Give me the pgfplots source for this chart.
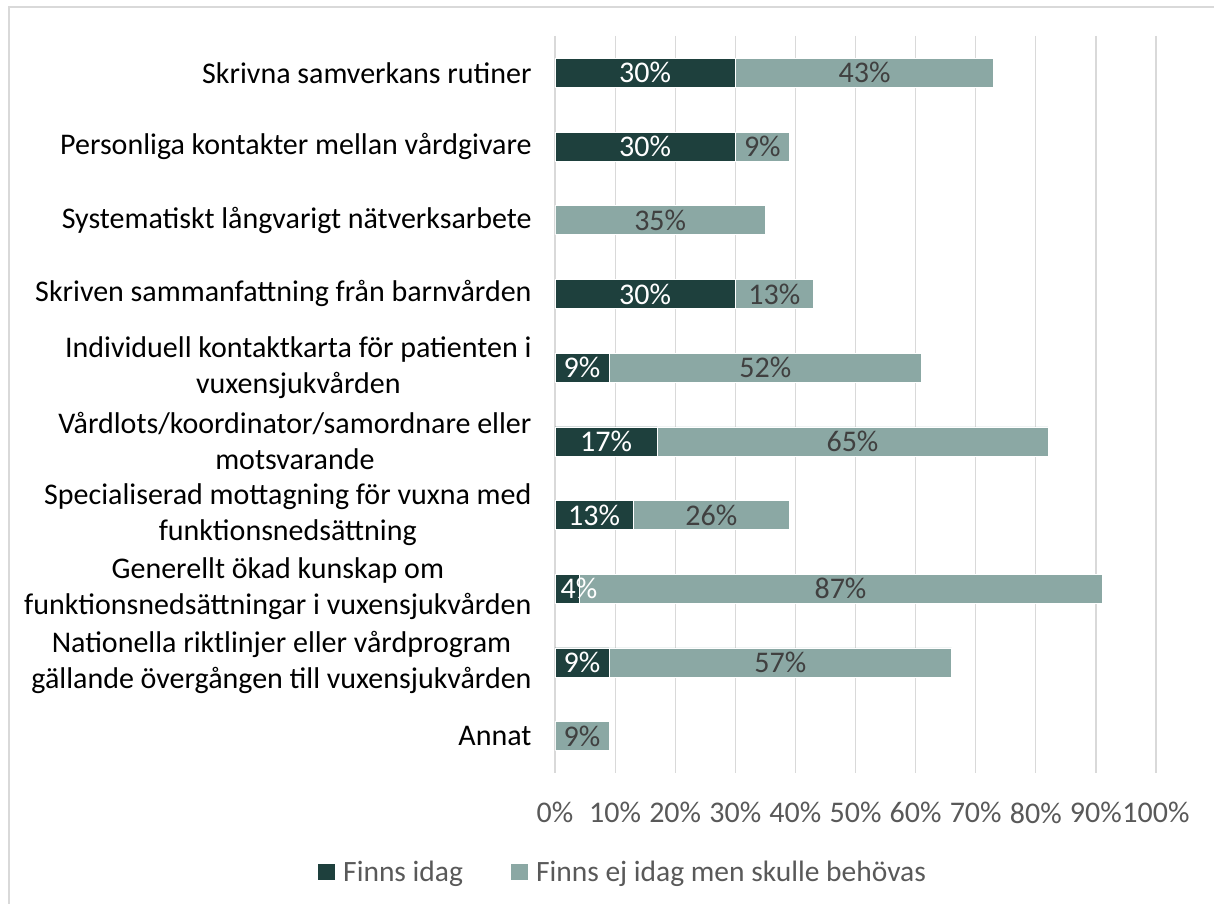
\documentclass[border=0pt]{standalone}
\usepackage{pgfplots}
\usepackage{pgfplotstable}
\pgfplotsset{compat=1.18}
\usepackage{fontspec}
\setmainfont{Carlito}
\definecolor{darkbar}{HTML}{1E403D}
\definecolor{lightbar}{HTML}{8BA8A4}
\definecolor{lbltext}{HTML}{404040}
\definecolor{ticktext}{HTML}{595959}
\definecolor{gridc}{HTML}{D9D9D9}
\pgfplotstableread{
idx finns ej
0 30 43
1 30 9
2 0 35
3 30 13
4 9 52
5 17 65
6 13 26
7 4 87
8 9 57
9 0 9
}\datatable
\newcommand\barlabel[1]{\pgfmathparse{(#1)>0.5 ? 1 : 0}\ifdim\pgfmathresult pt>0.5pt\pgfmathprintnumber[fixed,precision=0]{#1}\%\fi}
\begin{document}
\begin{tikzpicture}[x=1bp,y=1bp]
\useasboundingbox (0,0) rectangle (1214,904);
\draw[gridc, line width=1.2bp] (9,-20) -- (9,897) -- (1240,897);
\begin{axis}[
  at={(555bp,131bp)}, anchor=south west,
  width=601bp, height=737bp, scale only axis,
  xmin=0, xmax=100, ymin=-0.5, ymax=9.5, y dir=reverse,
  /pgf/number format/assume math mode=true,
  xtick={0,10,...,100},
  xticklabel={\pgfmathprintnumber{\tick}\%},
  xticklabel style={font=\fontsize{30bp}{36bp}\selectfont, text=ticktext, yshift=-26bp},
  xmajorgrids, grid style={draw=gridc, line width=1.2bp},
  axis line style={draw=none}, major tick length=0pt,
  ytick={0,...,9},
  yticklabels={
    Skrivna samverkans rutiner,
    Personliga kontakter mellan vårdgivare,
    Systematiskt långvarigt nätverksarbete,
    Skriven sammanfattning från barnvården,
    {Individuell kontaktkarta för patienten i\\vuxensjukvården},
    {Vårdlots/koordinator/samordnare eller\\motsvarande},
    {Specialiserad mottagning för vuxna med\\funktionsnedsättning},
    {Generellt ökad kunskap om\\funktionsnedsättningar i vuxensjukvården},
    {Nationella riktlinjer eller vårdprogram\\gällande övergången till vuxensjukvården},
    Annat},
  yticklabel style={align=center, font=\fontsize{30bp}{36bp}\selectfont, text=black, xshift=-20bp},
  legend columns=2,
  legend style={at={(-0.3943,-0.1343)}, anchor=west, draw=none, fill=none,
    font=\fontsize{29.5bp}{34bp}\selectfont, text=ticktext, inner sep=0pt,
    nodes={inner sep=0pt},
    /tikz/every odd column/.append style={column sep=8bp},
    /tikz/every even column/.append style={column sep=48bp}},
  legend cell align=left,
  legend image code/.code={\fill[#1, draw=none] (0bp,-8bp) rectangle (17bp,8bp);},
]
% light bar = total length (finns + ej), drawn first; dark bar drawn on top
\addplot[xbar, bar width=29bp, bar shift=0pt, fill=lightbar, draw=white, line width=0.6bp,
  forget plot]
  table[x expr=\thisrow{finns}+\thisrow{ej}, y=idx] {\datatable};
\addplot[xbar, bar width=29bp, bar shift=0pt, fill=darkbar, draw=white, line width=0.6bp]
  table[x=finns, y=idx] {\datatable};
\addlegendentry{Finns idag}
\addlegendimage{fill=lightbar, draw=none}
\addlegendentry{Finns ej idag men skulle behövas}
% segment labels, centred in each segment
\addplot[draw=none, mark=none, forget plot,
  visualization depends on={\thisrow{finns} \as \val},
  nodes near coords={\barlabel{\val}},
  every node near coord/.append style={anchor=center, text=white,
     font=\fontsize{30bp}{36bp}\selectfont}]
  table[x expr={max(\thisrow{finns}/2,4)}, y=idx] {\datatable};
\addplot[draw=none, mark=none, forget plot,
  visualization depends on={\thisrow{ej} \as \val},
  nodes near coords={\barlabel{\val}},
  every node near coord/.append style={anchor=center, text=lbltext,
     font=\fontsize{30bp}{36bp}\selectfont}]
  table[x expr=\thisrow{finns}+\thisrow{ej}/2, y=idx] {\datatable};
\end{axis}
\end{tikzpicture}
\end{document}
